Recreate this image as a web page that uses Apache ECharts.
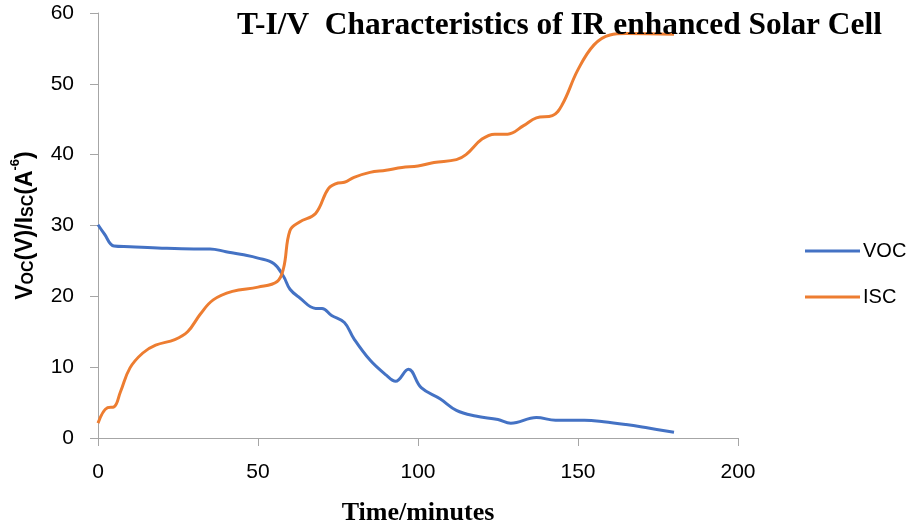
<!DOCTYPE html>
<html>
<head>
<meta charset="utf-8">
<script src="https://cdn.jsdelivr.net/npm/echarts@6/dist/echarts.min.js"></script>
<style>html,body{margin:0;padding:0;background:#fff}#c{width:912px;height:528px}</style>
</head>
<body>
<div id="c"></div>
<script>
var vocTime = [0,2,5,10,20,30,35,40,45,50,55,58,60,63,68,70,73,77,80,85,90,93,97,101,107,112,118,125,129,137,143,152,158,165,172,180];
var vocValues = [30.1,28.8,27.1,27.0,26.8,26.7,26.7,26.3,25.9,25.4,24.6,22.8,21.0,19.8,18.3,18.3,17.3,16.3,14.0,11.0,8.9,8.0,9.7,7.1,5.5,3.9,3.1,2.6,2.1,2.9,2.5,2.5,2.3,1.9,1.4,0.8];
var iscTime = [0,3,5,7,10,14,18,24,28,32,36,42,50,56,58,60,63,68,72,75,77,80,85,90,95,100,105,112,115,120,124,128,133,137,142,145,150,155,160,165,180];
var iscValues = [2.1,4.3,4.4,6.5,9.9,12.0,13.1,13.9,15.0,17.5,19.5,20.7,21.3,22.1,24.0,29.3,30.5,31.7,35.2,36.0,36.1,36.8,37.5,37.8,38.2,38.4,38.9,39.3,40.0,42.2,42.9,42.9,44.1,45.2,45.5,47.0,52.0,55.5,56.9,57.1,57.0];
var xTicks = [0,50,100,150,200];
var yTicks = [0,10,20,30,40,50,60];
var seriesNames = ['VOC','ISC'];
var titleText = 'T-I/V  Characteristics of IR enhanced Solar Cell';
var xName = 'Time/minutes';

function pairs(xs, ys){ return xs.map(function(x,i){return [x, ys[i]];}); }

var chart = echarts.init(document.getElementById('c'), null, {renderer:'canvas'});
var axisLineStyle = {color:'#a6a6a6', width:1};
chart.setOption({
  animation:false,
  backgroundColor:'#fff',
  title:{
    text:titleText, left:232, top:5,
    textStyle:{fontFamily:'Liberation Serif', fontWeight:'bold', fontSize:31.4, color:'#000'}
  },
  legend:{
    orient:'vertical', left:800, top:236, itemWidth:55, itemHeight:3, itemGap:26,
    icon:'rect',
    textStyle:{fontFamily:'Liberation Sans', fontSize:20, color:'#000', padding:[0,0,0,-2]},
    data:seriesNames
  },
  grid:{left:98, right:174, top:13, bottom:90, containLabel:false, outerBoundsMode:'none'},
  xAxis:{
    type:'value', min:xTicks[0], max:xTicks[xTicks.length-1], interval:50,
    axisLine:{show:true, onZero:false, lineStyle:axisLineStyle},
    axisTick:{show:true, length:8, lineStyle:axisLineStyle},
    splitLine:{show:false},
    axisLabel:{margin:24, fontFamily:'Liberation Sans', fontSize:21, color:'#000'},
    name:xName, nameLocation:'middle', nameGap:62,
    nameTextStyle:{fontFamily:'Liberation Serif', fontWeight:'bold', fontSize:26, color:'#000'}
  },
  yAxis:{
    type:'value', min:yTicks[0], max:yTicks[yTicks.length-1], interval:10,
    axisLine:{show:true, lineStyle:axisLineStyle},
    axisTick:{show:true, length:8, lineStyle:axisLineStyle},
    splitLine:{show:false},
    axisLabel:{margin:24, fontFamily:'Liberation Sans', fontSize:21, color:'#000'},
    name:'{b|V}{s|OC}{b|(V)/I}{s|SC}{b|(A}{p|-6}{b|)}', nameLocation:'middle', nameGap:61, nameRotate:90,
    nameTextStyle:{
      color:'#000',
      rich:{
        b:{fontFamily:'Liberation Sans', fontWeight:'bold', fontSize:23, color:'#000', verticalAlign:'bottom', lineHeight:28},
        s:{fontFamily:'Liberation Sans', fontWeight:'bold', fontSize:16, color:'#000', verticalAlign:'bottom', lineHeight:22},
        p:{fontFamily:'Liberation Sans', fontWeight:'bold', fontSize:13, color:'#000', verticalAlign:'top', lineHeight:28}
      }
    }
  },
  series:[
    {name:seriesNames[0], type:'line', data:pairs(vocTime, vocValues), smooth:0.4, showSymbol:false, symbol:'none',
     lineStyle:{color:'#4472C4', width:3}, itemStyle:{color:'#4472C4'}},
    {name:seriesNames[1], type:'line', data:pairs(iscTime, iscValues), smooth:0.4, showSymbol:false, symbol:'none',
     lineStyle:{color:'#ED7D31', width:3}, itemStyle:{color:'#ED7D31'}}
  ]
});
</script>
</body>
</html>
